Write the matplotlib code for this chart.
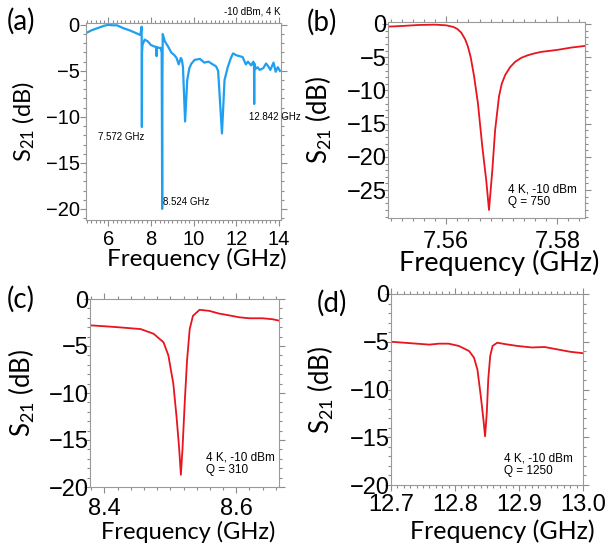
import numpy as np
import matplotlib
matplotlib.use("Agg")
import matplotlib.pyplot as plt
from matplotlib.ticker import MultipleLocator

# -----------------------------
# Data
# -----------------------------
# (a) broadband transmission, -10 dBm, 4 K
freq_a = [4.95, 5.2, 5.5, 5.8, 6.0, 6.2, 6.4, 6.7, 7.0, 7.2, 7.4, 7.5, 7.555,
          7.56, 7.565, 7.572, 7.58, 7.6, 7.7, 7.85, 8.0, 8.15, 8.25, 8.26,
          8.27, 8.28, 8.35, 8.45, 8.5, 8.515, 8.524, 8.535, 8.55, 8.65,
          8.8, 8.95, 9.1, 9.2, 9.3, 9.4, 9.45, 9.5, 9.6, 9.7, 9.8, 9.9,
          10.05, 10.3, 10.5, 10.7, 10.9, 11.05, 11.15, 11.33, 11.45, 11.6,
          11.75, 11.85, 12.0, 12.15, 12.3, 12.45, 12.55, 12.7, 12.8, 12.835,
          12.842, 12.85, 12.9, 13.0, 13.1, 13.27, 13.4, 13.5, 13.6, 13.75,
          13.85, 13.95, 14.05]
s21_a = [-0.9, -0.6, -0.35, -0.1, 0.0, -0.05, -0.05, -0.36, -0.6, -0.8, -1.0,
         -1.1, -0.3, -0.2, -4.0, -11.1, -3.0, -2.2, -1.6, -1.8, -2.2, -2.35,
         -2.4, -3.4, -2.5, -2.4, -2.5, -2.5, -3.0, -12.0, -20.0, -6.0, -1.0,
         -1.8, -2.35, -3.0, -3.3, -3.6, -4.3, -3.6, -3.8, -4.6, -10.5, -6.0,
         -4.7, -4.2, -3.8, -3.7, -4.1, -4.0, -4.3, -4.5, -5.0, -11.8, -6.0,
         -4.6, -3.6, -3.1, -3.3, -3.4, -3.5, -4.3, -4.0, -4.4, -4.0, -4.5,
         -8.6, -4.2, -4.8, -4.6, -4.9, -4.7, -4.2, -4.5, -4.9, -4.1, -5.1,
         -4.6, -5.0]

# (b) resonance near 7.568 GHz
freq_b = [7.5495, 7.552, 7.555, 7.558, 7.560, 7.5613, 7.5620, 7.5627, 7.5634,
          7.5639, 7.5644, 7.5650, 7.5657, 7.5665, 7.5672, 7.5677, 7.5683,
          7.5688, 7.5695, 7.5700, 7.5706, 7.5715, 7.5724, 7.5735, 7.5747,
          7.5760, 7.5771, 7.580, 7.5825, 7.585]
s21_b = [-0.4, -0.3, -0.15, -0.1, -0.2, -0.45, -0.75, -1.3, -2.3, -3.4, -5.0,
         -7.8, -11.9, -18.5, -23.5, -28.0, -22.0, -16.0, -10.9, -9.0, -7.7,
         -6.5, -5.7, -5.1, -4.7, -4.4, -4.2, -3.9, -3.55, -3.3]

# (c) resonance near 8.516 GHz
freq_c = [8.378, 8.40, 8.42, 8.455, 8.4746, 8.4896, 8.497, 8.5045, 8.5095,
          8.5134, 8.516, 8.5185, 8.522, 8.5254, 8.5294, 8.5343, 8.5443,
          8.559, 8.574, 8.59, 8.605, 8.62, 8.64, 8.655, 8.665]
s21_c = [-2.8, -2.9, -3.0, -3.2, -3.7, -4.6, -6.0, -9.0, -12.6, -15.9, -18.7,
         -15.9, -10.8, -6.5, -3.2, -1.8, -1.15, -1.26, -1.55, -1.75, -1.95,
         -2.05, -2.05, -2.15, -2.3]

# (d) resonance near 12.847 GHz
freq_d = [12.70, 12.73, 12.76, 12.775, 12.79, 12.806, 12.822, 12.8297,
          12.835, 12.8403, 12.8445, 12.847, 12.8497, 12.852, 12.855, 12.8587,
          12.866, 12.8795, 12.8976, 12.92, 12.94, 12.96, 12.98, 13.0]
s21_d = [-5.0, -5.15, -5.3, -5.2, -5.2, -5.44, -5.97, -6.67, -7.9, -10.7,
         -13.2, -14.9, -12.4, -8.9, -6.5, -5.44, -5.1, -5.26, -5.44, -5.6,
         -5.55, -5.8, -6.05, -6.2]

BLUE = "#1f9ff0"
RED = "#e8141e"
LABEL_FONT = "Lato"


def box(l, t, r, b):
    # pixel box -> figure fraction
    return [l / 605, 1 - b / 550, (r - l) / 605, (b - t) / 550]


def style(ax, xmaj, xmin, tick_size, xpad, ypad, xl_size, yl_size,
          xl_pos, yl_pos):
    ax.xaxis.set_major_locator(MultipleLocator(xmaj))
    ax.xaxis.set_minor_locator(MultipleLocator(xmin))
    ax.yaxis.set_major_locator(MultipleLocator(5))
    ax.yaxis.set_minor_locator(MultipleLocator(1))
    ax.tick_params(which="both", direction="out", top=True, right=True,
                   color="#8c8c8c", width=0.8, labelsize=tick_size)
    ax.tick_params(which="major", length=4.5)
    ax.tick_params(which="minor", length=2.5)
    ax.tick_params(axis="x", pad=xpad)
    ax.tick_params(axis="y", pad=ypad)
    for s in ax.spines.values():
        s.set_color("#9a9a9a")
        s.set_linewidth(0.8)
    ax.set_xlabel("Frequency (GHz)", family=LABEL_FONT, fontsize=xl_size)
    ax.set_ylabel(r"S$_{\mathregular{21}}$ (dB)", family=LABEL_FONT,
                  fontsize=yl_size)
    ax.xaxis.set_label_coords(*xl_pos)
    ax.yaxis.set_label_coords(*yl_pos)


def main():
    plt.rcParams["font.family"] = ["Liberation Sans", "DejaVu Sans"]
    plt.rcParams["mathtext.default"] = "regular"
    fig = plt.figure(figsize=(6.05, 5.5), dpi=100)

    # (a)
    ax = fig.add_axes(box(86, 23, 281, 220))
    ax.plot(freq_a, s21_a, color=BLUE, lw=1.6)
    ax.set_xlim(4.95, 14.1)
    ax.set_ylim(-21.2, 0.2)
    style(ax, 2, 0.2, 14.5, 2.5, 0, 17.5, 17, (0.569, -0.142), (-0.251, 0.5))
    ax.text(5.52, -12.2, "7.572 GHz", fontsize=7, va="center")
    ax.text(8.58, -19.2, "8.524 GHz", fontsize=7, va="center")
    ax.text(12.62, -10.0, "12.842 GHz", fontsize=7, va="center",
            clip_on=False)
    ax.text(1.0, 1.035, "-10 dBm, 4 K", transform=ax.transAxes, ha="right",
            va="bottom", fontsize=7)

    # (b)
    ax = fig.add_axes(box(388, 22, 585, 218))
    ax.plot(freq_b, s21_b, color=RED, lw=1.3)
    ax.set_xlim(7.5495, 7.585)
    ax.set_ylim(-29.2, 0.3)
    style(ax, 0.02, 0.002, 17, 4.5, -3.5, 19.5, 18.5, (0.563, -0.165),
          (-0.274, 0.5))
    ax.text(0.609, 0.051, "4 K, -10 dBm\nQ = 750", transform=ax.transAxes,
            fontsize=8.5, va="bottom", linespacing=1.05)

    # (c)
    ax = fig.add_axes(box(90, 299, 279, 487))
    ax.plot(freq_c, s21_c, color=RED, lw=1.3)
    ax.set_xlim(8.378, 8.665)
    ax.set_ylim(-20, 0)
    style(ax, 0.2, 0.02, 17, 3.5, -3.5, 17, 18.5, (0.521, -0.178),
          (-0.280, 0.5))
    ax.text(0.614, 0.058, "4 K, -10 dBm\nQ = 310", transform=ax.transAxes,
            fontsize=8.5, va="bottom", linespacing=1.05)

    # (d)
    ax = fig.add_axes(box(391, 294, 583, 485))
    ax.plot(freq_d, s21_d, color=RED, lw=1.3)
    ax.set_xlim(12.7, 13.0)
    ax.set_ylim(-20, 0)
    style(ax, 0.1, 0.01, 17, 2, -3.5, 18, 18.5, (0.578, -0.180),
          (-0.286, 0.5))
    ax.text(0.589, 0.042, "4 K, -10 dBm\nQ = 1250", transform=ax.transAxes,
            fontsize=8.5, va="bottom", linespacing=1.05)

    for lab, x, y in [("(a)", 7, 21), ("(b)", 307, 22), ("(c)", 7, 299),
                      ("(d)", 317, 303)]:
        fig.text(x / 605, 1 - y / 550, lab, family=LABEL_FONT, fontsize=20,
                 va="center", ha="left")

    fig.savefig("out.png", dpi=100)


if __name__ == "__main__":
    main()
